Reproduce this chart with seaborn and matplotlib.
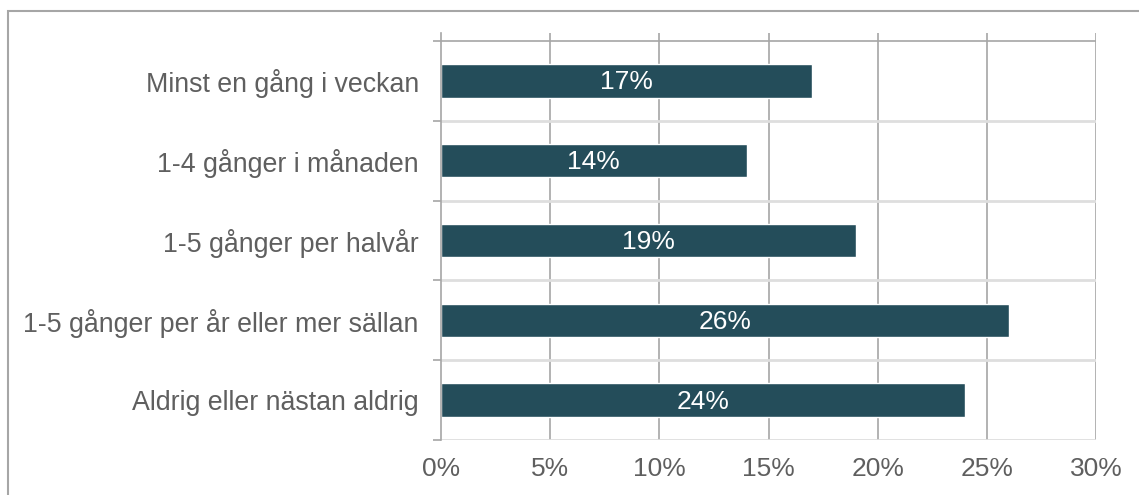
import pandas as pd
import matplotlib.pyplot as plt
import seaborn as sns
from matplotlib.patches import Rectangle

# data
kategorier = ["Minst en gång i veckan", "1-4 gånger i månaden", "1-5 gånger per halvår",
              "1-5 gånger per år eller mer sällan", "Aldrig eller nästan aldrig"]
andel = [17, 14, 19, 26, 24]
xticks = [0, 5, 10, 15, 20, 25, 30]

df = pd.DataFrame({"kategori": kategorier, "andel": andel})

sns.set_style("white")
plt.rcParams['font.family'] = ['Liberation Sans', 'DejaVu Sans']

fig = plt.figure(figsize=(11.39, 4.95), dpi=100)
ax = fig.add_axes([441 / 1139, 1 - 440 / 495, 655 / 1139, 407 / 495])

sns.barplot(data=df, x="andel", y="kategori", orient="h", color="#244D5A",
            saturation=1, width=0.42, ax=ax, zorder=3)

# labels inside the bars
for i, v in enumerate(andel):
    ax.text(v / 2, i + 0.02, f"{v}%", color="white", ha="center", va="center", fontsize=19, zorder=4)

ax.set_xlim(0, 30)
ax.set_ylim(4.5, -0.6)
ax.set_xticks(xticks)
ax.set_xticklabels([f"{t}%" for t in xticks])
ax.set_xlabel("")
ax.set_ylabel("")

# gridlines
for t in xticks[1:]:
    ax.axvline(t, color="#a6a6a6", lw=1.2, zorder=1)
for b in [0.5, 1.5, 2.5, 3.5, 4.5]:
    ax.axhline(b, color="#dedede", lw=2, zorder=1)
ax.axhline(-0.5, color="#a6a6a6", lw=1.2, zorder=1)

for s in ["top", "right", "bottom"]:
    ax.spines[s].set_visible(False)
ax.spines["left"].set_color("#a6a6a6")
ax.spines["left"].set_linewidth(1.2)
ax.spines["left"].set_zorder(5)

ax.set_yticks([-0.5, 0.5, 1.5, 2.5, 3.5, 4.5], minor=True)
ax.tick_params(axis="y", which="minor", length=6, width=1.2, color="#a6a6a6", left=True)
ax.tick_params(axis="y", which="major", length=0, pad=16, labelsize=19.3, labelcolor="#5f5f5f")
ax.tick_params(axis="x", length=0, pad=12, labelsize=19, labelcolor="#5f5f5f")

# outer frame
fig.patches.append(Rectangle((8 / 1139, -0.1), 1.2, 1 - 11 / 495 + 0.1, transform=fig.transFigure,
                             fill=False, edgecolor="#a6a6a6", lw=1.5))

fig.savefig("out.png", dpi=100)
